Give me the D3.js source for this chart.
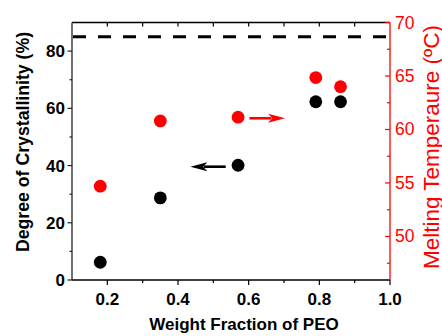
<!DOCTYPE html>
<html>
<head>
<meta charset="utf-8">
<script src="https://cdn.jsdelivr.net/npm/d3@7"></script>
<style>
  body { margin: 0; background: #fff; }
  svg { display: block; font-family: "Liberation Sans", Arial, sans-serif; }
</style>
</head>
<body>
<div id="chart"></div>
<script>
// data
var weightFraction = [0.18, 0.35, 0.57, 0.79, 0.86];
var crystallinity = [6.2, 28.7, 40.1, 62.3, 62.3];
var meltingTemp = [54.7, 60.8, 61.15, 64.85, 64.0];
var refLine = 85; // dashed line, left axis
var xTicks = [0.2, 0.4, 0.6, 0.8, 1.0];
var leftTicks = [0, 20, 40, 60, 80];
var rightTicks = [50, 55, 60, 65, 70];
// arrows: [x0, x1, y] in data units
var blackArrow = [0.535, 0.435, 39.6];
var redArrow = [0.602, 0.703, 61.05];

var W = 442, H = 336;
var L = 72, R = 390, T = 22.5, B = 280;

var svg = d3.select("#chart").append("svg")
    .attr("width", W)
    .attr("height", H);

var x = d3.scaleLinear().domain([0.1, 1.0]).range([L, R]);
var yL = d3.scaleLinear().domain([0, 90]).range([B, T]);
var yR = d3.scaleLinear().domain([45.93, 70]).range([B, T]);

// top frame line + inner ticks
svg.append("line").attr("x1", L).attr("x2", R).attr("y1", T).attr("y2", T)
    .attr("stroke", "#000").attr("stroke-width", 1.3);
svg.selectAll(".topTick")
    .data(d3.range(0.2, 1.0, 0.1))
    .enter().append("line")
    .attr("x1", function(d) { return x(d); })
    .attr("x2", function(d) { return x(d); })
    .attr("y1", T).attr("y2", T + 4)
    .attr("stroke", "#000").attr("stroke-width", 1.2);

// bottom axis
var gx = svg.append("g").attr("transform", "translate(0," + B + ")");
gx.append("line").attr("x1", L).attr("x2", R).attr("stroke", "#000").attr("stroke-width", 1.3);
gx.selectAll(".minor")
    .data([0.3, 0.5, 0.7, 0.9])
    .enter().append("line")
    .attr("x1", function(d) { return x(d); })
    .attr("x2", function(d) { return x(d); })
    .attr("y1", 0).attr("y2", 3)
    .attr("stroke", "#000").attr("stroke-width", 1.2);
gx.selectAll(".major")
    .data(xTicks)
    .enter().append("line")
    .attr("x1", function(d) { return x(d); })
    .attr("x2", function(d) { return x(d); })
    .attr("y1", 0).attr("y2", 5)
    .attr("stroke", "#000").attr("stroke-width", 1.2);
gx.selectAll(".lbl")
    .data(xTicks)
    .enter().append("text")
    .attr("x", function(d) { return x(d); })
    .attr("y", 25)
    .attr("text-anchor", "middle")
    .attr("font-size", 17)
    .attr("font-weight", "bold")
    .text(function(d) { return d.toFixed(1); });

// left axis
var gl = svg.append("g").attr("transform", "translate(" + L + ",0)");
gl.append("line").attr("y1", T).attr("y2", B).attr("stroke", "#222").attr("stroke-width", 1.3);
gl.selectAll(".minor")
    .data([10, 30, 50, 70])
    .enter().append("line")
    .attr("y1", function(d) { return yL(d); })
    .attr("y2", function(d) { return yL(d); })
    .attr("x1", 0).attr("x2", -2.5)
    .attr("stroke", "#222").attr("stroke-width", 1.2);
gl.selectAll(".major")
    .data(leftTicks)
    .enter().append("line")
    .attr("y1", function(d) { return yL(d); })
    .attr("y2", function(d) { return yL(d); })
    .attr("x1", 0).attr("x2", -4.5)
    .attr("stroke", "#222").attr("stroke-width", 1.2);
gl.selectAll(".lbl")
    .data(leftTicks)
    .enter().append("text")
    .attr("x", -7)
    .attr("y", function(d) { return yL(d) + 6; })
    .attr("text-anchor", "end")
    .attr("font-size", 17)
    .attr("font-weight", "bold")
    .text(function(d) { return d; });

// right axis (red)
var red = "#ff0000";
var gr = svg.append("g").attr("transform", "translate(" + R + ",0)");
gr.append("line").attr("y1", T).attr("y2", B).attr("stroke", red).attr("stroke-width", 1.3);
gr.selectAll(".minor")
    .data([47.5, 52.5, 57.5, 62.5, 67.5])
    .enter().append("line")
    .attr("y1", function(d) { return yR(d); })
    .attr("y2", function(d) { return yR(d); })
    .attr("x1", 0).attr("x2", -3)
    .attr("stroke", red).attr("stroke-width", 1.2);
gr.selectAll(".major")
    .data(rightTicks)
    .enter().append("line")
    .attr("y1", function(d) { return yR(d); })
    .attr("y2", function(d) { return yR(d); })
    .attr("x1", 0).attr("x2", -5)
    .attr("stroke", red).attr("stroke-width", 1.2);
gr.selectAll(".lbl")
    .data(rightTicks)
    .enter().append("text")
    .attr("x", 5)
    .attr("y", function(d) { return yR(d) + 6; })
    .attr("fill", red)
    .attr("font-size", 17.5)
    .text(function(d) { return d; });

// dashed reference line
svg.append("line")
    .attr("x1", L + 1).attr("x2", R)
    .attr("y1", yL(refLine)).attr("y2", yL(refLine))
    .attr("stroke", "#000")
    .attr("stroke-width", 3)
    .attr("stroke-dasharray", "13,12");

// points
svg.selectAll(".cry")
    .data(weightFraction)
    .enter().append("circle")
    .attr("cx", function(d) { return x(d); })
    .attr("cy", function(d, i) { return yL(crystallinity[i]); })
    .attr("r", 6.4)
    .attr("fill", "#000");
svg.selectAll(".tm")
    .data(weightFraction)
    .enter().append("circle")
    .attr("cx", function(d) { return x(d); })
    .attr("cy", function(d, i) { return yR(meltingTemp[i]); })
    .attr("r", 6.4)
    .attr("fill", red);

// arrows
function arrow(a, yScale, color) {
    var x0 = x(a[0]), x1 = x(a[1]), yy = yScale(a[2]);
    var dir = x1 > x0 ? 1 : -1;
    var headLen = 17, headW = 4.5;
    svg.append("line")
        .attr("x1", x0).attr("x2", x1 - dir * headLen * 0.8)
        .attr("y1", yy).attr("y2", yy)
        .attr("stroke", color).attr("stroke-width", 2.6);
    svg.append("path")
        .attr("d", "M" + x1 + "," + yy +
            "L" + (x1 - dir * headLen) + "," + (yy - headW) +
            "L" + (x1 - dir * headLen * 0.75) + "," + yy +
            "L" + (x1 - dir * headLen) + "," + (yy + headW) + "Z")
        .attr("fill", color);
}
arrow(blackArrow, yL, "#000");
arrow(redArrow, yR, red);

// axis titles
svg.append("text")
    .attr("transform", "translate(29," + 142 + ") rotate(-90)")
    .attr("text-anchor", "middle")
    .attr("font-size", 17.7)
    .attr("font-weight", "bold")
    .text("Degree of Crystallinity (%)");

svg.append("text")
    .attr("x", (L + R) / 2 + 13)
    .attr("y", 330)
    .attr("text-anchor", "middle")
    .attr("font-size", 17)
    .attr("font-weight", "bold")
    .text("Weight Fraction of PEO");

svg.append("text")
    .attr("transform", "translate(439," + 147 + ") rotate(-90)")
    .attr("text-anchor", "middle")
    .attr("font-size", 22.5)
    .attr("fill", red)
    .text("Melting Temperaure (\u00BAC)");
</script>
</body>
</html>
